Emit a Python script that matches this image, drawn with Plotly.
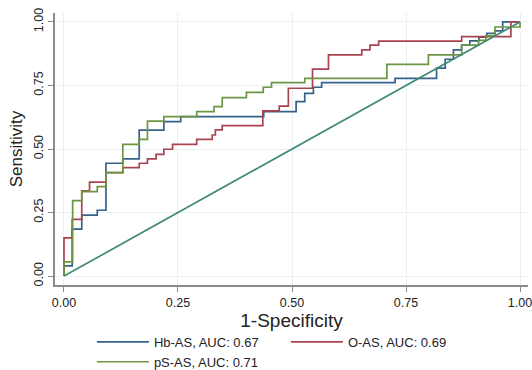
import plotly.graph_objects as go

# ROC points (1-specificity, sensitivity) at the top of each step
hb_fpr = [0, 0, 0.018, 0.039, 0.073, 0.092, 0.129, 0.165, 0.219, 0.256, 0.438, 0.509, 0.528, 0.547, 0.565,
          0.726, 0.817, 0.836, 0.854, 0.872, 0.890, 0.910, 0.927, 0.945, 0.962, 1.0]
hb_tpr = [0, 0.04, 0.185, 0.240, 0.259, 0.444, 0.461, 0.574, 0.608, 0.627, 0.647, 0.686, 0.719, 0.743, 0.761,
          0.778, 0.818, 0.853, 0.890, 0.909, 0.925, 0.940, 0.955, 0.965, 1.0, 1.0]

o_fpr = [0, 0, 0.018, 0.039, 0.056, 0.092, 0.129, 0.165, 0.183, 0.202, 0.219, 0.238, 0.291, 0.325, 0.332,
         0.347, 0.436, 0.472, 0.492, 0.545, 0.580, 0.653, 0.671, 0.690, 0.872, 0.980, 1.0]
o_tpr = [0, 0.150, 0.223, 0.335, 0.370, 0.407, 0.427, 0.444, 0.461, 0.479, 0.499, 0.518, 0.538, 0.555, 0.575,
         0.592, 0.650, 0.669, 0.739, 0.814, 0.870, 0.890, 0.909, 0.924, 0.942, 1.0, 1.0]

ps_fpr = [0, 0, 0.019, 0.039, 0.073, 0.092, 0.129, 0.165, 0.183, 0.219, 0.291, 0.329, 0.347, 0.400, 0.437,
          0.455, 0.528, 0.708, 0.799, 0.872, 0.909, 0.925, 0.945, 1.0]
ps_tpr = [0, 0.056, 0.297, 0.332, 0.352, 0.407, 0.518, 0.538, 0.610, 0.627, 0.647, 0.667, 0.702, 0.723, 0.743,
          0.761, 0.778, 0.833, 0.870, 0.909, 0.927, 0.945, 0.980, 1.0]

ref_x = [0, 1]
ref_y = [0, 1]

names = ["Hb-AS, AUC: 0.67", "O-AS, AUC: 0.69", "pS-AS, AUC: 0.71"]
colors = ["#35618d", "#a8434f", "#6d9644"]
ticks = [0, 0.25, 0.5, 0.75, 1.0]
tick_text = ["0.00", "0.25", "0.50", "0.75", "1.00"]

fig = go.Figure()
for fx, ty, nm, c in [(hb_fpr, hb_tpr, names[0], colors[0]),
                      (o_fpr, o_tpr, names[1], colors[1]),
                      (ps_fpr, ps_tpr, names[2], colors[2])]:
    fig.add_trace(go.Scatter(x=fx, y=ty, mode="lines", name=nm,
                             line=dict(color=c, width=1.7, shape="hv")))
fig.add_trace(go.Scatter(x=ref_x, y=ref_y, mode="lines", showlegend=False,
                         line=dict(color="#3f8a76", width=1.7)))

font_family = "Liberation Sans, Arial, sans-serif"
fig.update_layout(
    width=532, height=370,
    margin=dict(l=55, r=4, t=13, b=85, autoexpand=False),
    paper_bgcolor="white", plot_bgcolor="white",
    font=dict(family=font_family, color="#222", size=12),
    legend=dict(orientation="h", x=0.078, xanchor="left", y=-0.154, yanchor="top",
                entrywidth=127, entrywidthmode="pixels", itemwidth=52,
                font=dict(size=13, family=font_family), tracegroupgap=0),
    xaxis=dict(range=[-0.0197, 1.0175], tickvals=ticks, ticktext=tick_text,
               showline=True, linecolor="#8a8a8a", linewidth=1.5,
               ticks="outside", ticklen=5, tickcolor="#8a8a8a",
               showgrid=True, gridcolor="#eaf0f4", gridwidth=1.2, zeroline=False,
               automargin=False, ticklabelstandoff=0, ticklabeloverflow="allow",
               title=dict(text="1-Specificity", font=dict(size=19), standoff=0),
               tickfont=dict(size=12.5)),
    yaxis=dict(range=[-0.035, 1.035], tickvals=ticks, ticktext=tick_text,
               showline=True, linecolor="#8a8a8a", linewidth=1.5,
               ticks="outside", ticklen=5, tickcolor="#8a8a8a", tickangle=-90,
               showgrid=True, gridcolor="#eaf0f4", gridwidth=1.2, zeroline=False,
               automargin=False,
               title=dict(text="Sensitivity", font=dict(size=17), standoff=5),
               tickfont=dict(size=12.5)),
)

fig.write_html("out.html", config={"displayModeBar": False},
               post_script="document.body.style.margin='0';")
